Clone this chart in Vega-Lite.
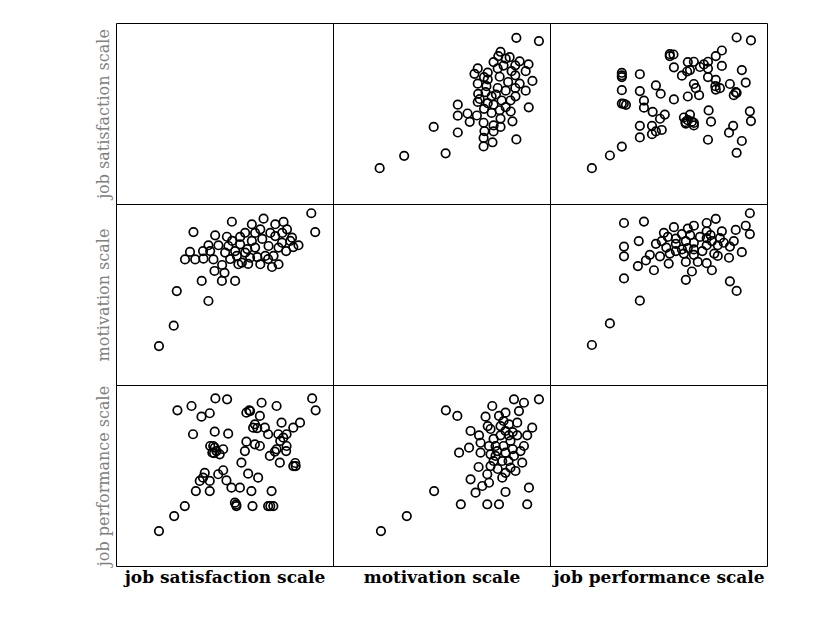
{
  "$schema": "https://vega.github.io/schema/vega-lite/v6.json",
  "padding": {"left": 94, "top": 22, "right": 5, "bottom": 5},
  "background": "white",
  "datasets": {
    "js_mot": [
      {"job_satisfaction": 90.0, "motivation": 94.9}, {"job_satisfaction": 91.8, "motivation": 84.5},
      {"job_satisfaction": 53.4, "motivation": 90.2}, {"job_satisfaction": 62.6, "motivation": 88.8},
      {"job_satisfaction": 68.0, "motivation": 91.9}, {"job_satisfaction": 35.7, "motivation": 84.5},
      {"job_satisfaction": 45.7, "motivation": 82.7}, {"job_satisfaction": 51.1, "motivation": 81.9},
      {"job_satisfaction": 59.5, "motivation": 84.1}, {"job_satisfaction": 66.5, "motivation": 86.0},
      {"job_satisfaction": 73.4, "motivation": 88.8}, {"job_satisfaction": 77.2, "motivation": 90.1},
      {"job_satisfaction": 78.8, "motivation": 86.0}, {"job_satisfaction": 73.4, "motivation": 82.3},
      {"job_satisfaction": 81.1, "motivation": 81.4}, {"job_satisfaction": 84.1, "motivation": 77.2},
      {"job_satisfaction": 76.5, "motivation": 78.6}, {"job_satisfaction": 42.6, "motivation": 77.2},
      {"job_satisfaction": 47.2, "motivation": 77.2}, {"job_satisfaction": 51.8, "motivation": 76.8},
      {"job_satisfaction": 57.2, "motivation": 77.7}, {"job_satisfaction": 62.6, "motivation": 79.6},
      {"job_satisfaction": 64.1, "motivation": 75.9}, {"job_satisfaction": 70.3, "motivation": 76.8},
      {"job_satisfaction": 74.9, "motivation": 75.9}, {"job_satisfaction": 34.1, "motivation": 73.5},
      {"job_satisfaction": 31.8, "motivation": 69.4}, {"job_satisfaction": 36.5, "motivation": 69.4},
      {"job_satisfaction": 40.3, "motivation": 69.8}, {"job_satisfaction": 44.9, "motivation": 69.4},
      {"job_satisfaction": 50.3, "motivation": 73.1}, {"job_satisfaction": 55.7, "motivation": 71.3},
      {"job_satisfaction": 59.5, "motivation": 73.1}, {"job_satisfaction": 58.0, "motivation": 67.6},
      {"job_satisfaction": 61.8, "motivation": 70.3}, {"job_satisfaction": 66.5, "motivation": 66.7},
      {"job_satisfaction": 71.9, "motivation": 65.2}, {"job_satisfaction": 74.9, "motivation": 66.7},
      {"job_satisfaction": 68.8, "motivation": 71.3}, {"job_satisfaction": 72.6, "motivation": 71.3},
      {"job_satisfaction": 56.4, "motivation": 66.7}, {"job_satisfaction": 45.4, "motivation": 63.0},
      {"job_satisfaction": 50.0, "motivation": 62.0}, {"job_satisfaction": 39.5, "motivation": 57.5},
      {"job_satisfaction": 48.8, "motivation": 57.5}, {"job_satisfaction": 54.9, "motivation": 57.5},
      {"job_satisfaction": 28.0, "motivation": 51.9}, {"job_satisfaction": 42.6, "motivation": 46.4},
      {"job_satisfaction": 26.6, "motivation": 32.8}, {"job_satisfaction": 19.8, "motivation": 21.5},
      {"job_satisfaction": 53.5, "motivation": 79.6}, {"job_satisfaction": 67.4, "motivation": 80.7},
      {"job_satisfaction": 71.1, "motivation": 84.0}, {"job_satisfaction": 60.5, "motivation": 75.1},
      {"job_satisfaction": 78.4, "motivation": 74.0}, {"job_satisfaction": 40.1, "motivation": 74.0},
      {"job_satisfaction": 65.1, "motivation": 70.7}, {"job_satisfaction": 81.7, "motivation": 76.2},
      {"job_satisfaction": 54.9, "motivation": 74.0}, {"job_satisfaction": 57.2, "motivation": 81.8},
      {"job_satisfaction": 64.1, "motivation": 84.0}, {"job_satisfaction": 52.6, "motivation": 69.6},
      {"job_satisfaction": 60.9, "motivation": 66.9}, {"job_satisfaction": 76.6, "motivation": 84.0},
      {"job_satisfaction": 80.3, "motivation": 79.6}, {"job_satisfaction": 43.4, "motivation": 74.0},
      {"job_satisfaction": 70.1, "motivation": 69.6}, {"job_satisfaction": 48.9, "motivation": 66.3}
    ],
    "js_perf": [
      {"job_satisfaction": 90.4, "job_performance": 92.6}, {"job_satisfaction": 92.0, "job_performance": 86.0},
      {"job_satisfaction": 45.8, "job_performance": 92.6}, {"job_satisfaction": 51.2, "job_performance": 92.1},
      {"job_satisfaction": 28.3, "job_performance": 86.0}, {"job_satisfaction": 34.8, "job_performance": 88.4},
      {"job_satisfaction": 39.4, "job_performance": 82.5}, {"job_satisfaction": 43.2, "job_performance": 84.4},
      {"job_satisfaction": 67.1, "job_performance": 90.2}, {"job_satisfaction": 74.0, "job_performance": 88.4},
      {"job_satisfaction": 60.1, "job_performance": 84.7}, {"job_satisfaction": 61.4, "job_performance": 86.0},
      {"job_satisfaction": 66.3, "job_performance": 82.9}, {"job_satisfaction": 76.3, "job_performance": 79.2},
      {"job_satisfaction": 84.8, "job_performance": 79.2}, {"job_satisfaction": 81.7, "job_performance": 76.4},
      {"job_satisfaction": 64.0, "job_performance": 78.3}, {"job_satisfaction": 68.6, "job_performance": 76.4},
      {"job_satisfaction": 63.2, "job_performance": 76.4}, {"job_satisfaction": 35.5, "job_performance": 72.8},
      {"job_satisfaction": 45.5, "job_performance": 74.2}, {"job_satisfaction": 51.7, "job_performance": 73.1},
      {"job_satisfaction": 70.1, "job_performance": 72.8}, {"job_satisfaction": 74.8, "job_performance": 72.8},
      {"job_satisfaction": 78.6, "job_performance": 72.8}, {"job_satisfaction": 77.1, "job_performance": 70.9},
      {"job_satisfaction": 60.1, "job_performance": 68.7}, {"job_satisfaction": 66.3, "job_performance": 66.3},
      {"job_satisfaction": 64.0, "job_performance": 67.2}, {"job_satisfaction": 44.8, "job_performance": 66.3},
      {"job_satisfaction": 46.3, "job_performance": 63.5}, {"job_satisfaction": 44.4, "job_performance": 62.6},
      {"job_satisfaction": 47.8, "job_performance": 61.7}, {"job_satisfaction": 49.4, "job_performance": 64.5},
      {"job_satisfaction": 59.4, "job_performance": 63.5}, {"job_satisfaction": 57.8, "job_performance": 57.1},
      {"job_satisfaction": 70.9, "job_performance": 60.8}, {"job_satisfaction": 74.0, "job_performance": 64.5},
      {"job_satisfaction": 73.2, "job_performance": 63.2}, {"job_satisfaction": 78.6, "job_performance": 66.3},
      {"job_satisfaction": 75.5, "job_performance": 57.1}, {"job_satisfaction": 81.7, "job_performance": 55.2},
      {"job_satisfaction": 82.8, "job_performance": 55.2}, {"job_satisfaction": 40.9, "job_performance": 51.5},
      {"job_satisfaction": 49.4, "job_performance": 52.9}, {"job_satisfaction": 60.9, "job_performance": 51.0},
      {"job_satisfaction": 65.5, "job_performance": 48.8}, {"job_satisfaction": 38.6, "job_performance": 47.0},
      {"job_satisfaction": 43.2, "job_performance": 47.0}, {"job_satisfaction": 50.9, "job_performance": 47.3},
      {"job_satisfaction": 53.2, "job_performance": 43.3}, {"job_satisfaction": 57.1, "job_performance": 43.3},
      {"job_satisfaction": 62.4, "job_performance": 41.4}, {"job_satisfaction": 71.7, "job_performance": 41.4},
      {"job_satisfaction": 36.8, "job_performance": 41.4}, {"job_satisfaction": 43.2, "job_performance": 41.4},
      {"job_satisfaction": 54.8, "job_performance": 35.0}, {"job_satisfaction": 55.5, "job_performance": 33.1},
      {"job_satisfaction": 62.9, "job_performance": 33.1}, {"job_satisfaction": 70.1, "job_performance": 33.1},
      {"job_satisfaction": 72.5, "job_performance": 33.1}, {"job_satisfaction": 31.7, "job_performance": 33.1},
      {"job_satisfaction": 26.8, "job_performance": 27.6}, {"job_satisfaction": 19.8, "job_performance": 19.3},
      {"job_satisfaction": 45.5, "job_performance": 65.4}, {"job_satisfaction": 40.1, "job_performance": 48.8},
      {"job_satisfaction": 47.1, "job_performance": 50.7}, {"job_satisfaction": 45.2, "job_performance": 62.4},
      {"job_satisfaction": 43.4, "job_performance": 66.3}, {"job_satisfaction": 75.7, "job_performance": 69.1},
      {"job_satisfaction": 65.1, "job_performance": 76.2}, {"job_satisfaction": 78.4, "job_performance": 63.5},
      {"job_satisfaction": 82.6, "job_performance": 56.9}, {"job_satisfaction": 55.4, "job_performance": 34.0},
      {"job_satisfaction": 71.1, "job_performance": 33.1}, {"job_satisfaction": 61.8, "job_performance": 85.6}
    ],
    "mot_perf": [
      {"motivation": 83.4, "job_performance": 92.1}, {"motivation": 88.0, "job_performance": 90.2},
      {"motivation": 94.9, "job_performance": 92.1}, {"motivation": 73.4, "job_performance": 88.4},
      {"motivation": 85.7, "job_performance": 85.6}, {"motivation": 76.5, "job_performance": 82.9},
      {"motivation": 79.5, "job_performance": 84.7}, {"motivation": 70.3, "job_performance": 82.5},
      {"motivation": 77.2, "job_performance": 77.3}, {"motivation": 81.1, "job_performance": 78.3},
      {"motivation": 84.9, "job_performance": 79.2}, {"motivation": 91.8, "job_performance": 76.4},
      {"motivation": 63.4, "job_performance": 74.6}, {"motivation": 67.3, "job_performance": 72.2},
      {"motivation": 77.2, "job_performance": 72.2}, {"motivation": 81.1, "job_performance": 72.2},
      {"motivation": 84.9, "job_performance": 72.2}, {"motivation": 89.5, "job_performance": 72.2},
      {"motivation": 68.0, "job_performance": 68.1}, {"motivation": 71.9, "job_performance": 66.3},
      {"motivation": 81.8, "job_performance": 69.1}, {"motivation": 88.0, "job_performance": 66.3},
      {"motivation": 58.1, "job_performance": 62.6}, {"motivation": 62.7, "job_performance": 65.4},
      {"motivation": 68.0, "job_performance": 62.6}, {"motivation": 72.6, "job_performance": 61.7},
      {"motivation": 75.7, "job_performance": 63.5}, {"motivation": 79.5, "job_performance": 62.6},
      {"motivation": 83.4, "job_performance": 60.8}, {"motivation": 78.0, "job_performance": 58.0},
      {"motivation": 87.2, "job_performance": 57.1}, {"motivation": 81.8, "job_performance": 54.3},
      {"motivation": 79.5, "job_performance": 51.5}, {"motivation": 78.0, "job_performance": 48.8},
      {"motivation": 63.4, "job_performance": 47.9}, {"motivation": 71.1, "job_performance": 50.7},
      {"motivation": 68.8, "job_performance": 44.2}, {"motivation": 65.7, "job_performance": 40.5},
      {"motivation": 71.9, "job_performance": 46.0}, {"motivation": 79.5, "job_performance": 40.9},
      {"motivation": 90.3, "job_performance": 43.3}, {"motivation": 58.9, "job_performance": 34.1},
      {"motivation": 71.1, "job_performance": 34.1}, {"motivation": 76.5, "job_performance": 34.1},
      {"motivation": 89.5, "job_performance": 34.1}, {"motivation": 52.0, "job_performance": 86.0},
      {"motivation": 46.6, "job_performance": 41.4}, {"motivation": 34.0, "job_performance": 27.6},
      {"motivation": 22.1, "job_performance": 19.3}, {"motivation": 74.9, "job_performance": 66.3},
      {"motivation": 74.0, "job_performance": 70.2}, {"motivation": 72.6, "job_performance": 75.7},
      {"motivation": 82.8, "job_performance": 64.6}, {"motivation": 79.5, "job_performance": 74.6},
      {"motivation": 57.3, "job_performance": 82.9}, {"motivation": 74.0, "job_performance": 58.0},
      {"motivation": 67.1, "job_performance": 54.7}, {"motivation": 82.8, "job_performance": 74.0},
      {"motivation": 78.6, "job_performance": 66.3}, {"motivation": 74.9, "job_performance": 60.8},
      {"motivation": 80.9, "job_performance": 58.0}, {"motivation": 75.9, "job_performance": 53.6},
      {"motivation": 84.1, "job_performance": 52.5}, {"motivation": 72.6, "job_performance": 55.2},
      {"motivation": 86.4, "job_performance": 63.5}, {"motivation": 78.6, "job_performance": 80.1},
      {"motivation": 71.3, "job_performance": 77.3}
    ]
  },
  "columns": 3,
  "spacing": 0,
  "bounds": "flush",
  "concat": [
    {
      "width": 217, "height": 181,
      "data": {"values": []},
      "mark": {"type": "point", "shape": "circle", "filled": false, "color": "black"},
      "encoding": {
        "x": {"field": "job_satisfaction", "type": "quantitative", "scale": {"domain": [0, 100], "nice": false, "zero": false}, "axis": null},
        "y": {"field": "job_satisfaction", "type": "quantitative", "scale": {"domain": [0, 100], "nice": false, "zero": false},
              "axis": {"title": "job satisfaction scale", "labels": false, "ticks": false, "domain": false, "grid": false}}
      }
    },
    {
      "width": 217, "height": 181,
      "data": {"name": "js_mot"},
      "mark": {"type": "point", "shape": "circle", "filled": false, "color": "black", "size": 72, "strokeWidth": 1.7, "opacity": 1},
      "encoding": {
        "x": {"field": "motivation", "type": "quantitative", "scale": {"domain": [0, 100], "nice": false, "zero": false}, "axis": null},
        "y": {"field": "job_satisfaction", "type": "quantitative", "scale": {"domain": [0, 100], "nice": false, "zero": false}, "axis": null}
      }
    },
    {
      "width": 217, "height": 181,
      "data": {"name": "js_perf"},
      "mark": {"type": "point", "shape": "circle", "filled": false, "color": "black", "size": 72, "strokeWidth": 1.7, "opacity": 1},
      "encoding": {
        "x": {"field": "job_performance", "type": "quantitative", "scale": {"domain": [0, 100], "nice": false, "zero": false}, "axis": null},
        "y": {"field": "job_satisfaction", "type": "quantitative", "scale": {"domain": [0, 100], "nice": false, "zero": false}, "axis": null}
      }
    },
    {
      "width": 217, "height": 181,
      "data": {"name": "js_mot"},
      "mark": {"type": "point", "shape": "circle", "filled": false, "color": "black", "size": 72, "strokeWidth": 1.7, "opacity": 1},
      "encoding": {
        "x": {"field": "job_satisfaction", "type": "quantitative", "scale": {"domain": [0, 100], "nice": false, "zero": false}, "axis": null},
        "y": {"field": "motivation", "type": "quantitative", "scale": {"domain": [0, 100], "nice": false, "zero": false},
              "axis": {"title": "motivation scale", "labels": false, "ticks": false, "domain": false, "grid": false}}
      }
    },
    {
      "width": 217, "height": 181,
      "data": {"values": []},
      "mark": {"type": "point", "shape": "circle", "filled": false, "color": "black"},
      "encoding": {
        "x": {"field": "motivation", "type": "quantitative", "scale": {"domain": [0, 100], "nice": false, "zero": false}, "axis": null},
        "y": {"field": "motivation", "type": "quantitative", "scale": {"domain": [0, 100], "nice": false, "zero": false}, "axis": null}
      }
    },
    {
      "width": 217, "height": 181,
      "data": {"name": "mot_perf"},
      "mark": {"type": "point", "shape": "circle", "filled": false, "color": "black", "size": 72, "strokeWidth": 1.7, "opacity": 1},
      "encoding": {
        "x": {"field": "job_performance", "type": "quantitative", "scale": {"domain": [0, 100], "nice": false, "zero": false}, "axis": null},
        "y": {"field": "motivation", "type": "quantitative", "scale": {"domain": [0, 100], "nice": false, "zero": false}, "axis": null}
      }
    },
    {
      "width": 217, "height": 181,
      "data": {"name": "js_perf"},
      "mark": {"type": "point", "shape": "circle", "filled": false, "color": "black", "size": 72, "strokeWidth": 1.7, "opacity": 1},
      "encoding": {
        "x": {"field": "job_satisfaction", "type": "quantitative", "scale": {"domain": [0, 100], "nice": false, "zero": false},
              "axis": {"title": "job satisfaction scale", "labels": false, "ticks": false, "domain": false, "grid": false}},
        "y": {"field": "job_performance", "type": "quantitative", "scale": {"domain": [0, 100], "nice": false, "zero": false},
              "axis": {"title": "job performance scale", "labels": false, "ticks": false, "domain": false, "grid": false}}
      }
    },
    {
      "width": 217, "height": 181,
      "data": {"name": "mot_perf"},
      "mark": {"type": "point", "shape": "circle", "filled": false, "color": "black", "size": 72, "strokeWidth": 1.7, "opacity": 1},
      "encoding": {
        "x": {"field": "motivation", "type": "quantitative", "scale": {"domain": [0, 100], "nice": false, "zero": false},
              "axis": {"title": "motivation scale", "labels": false, "ticks": false, "domain": false, "grid": false}},
        "y": {"field": "job_performance", "type": "quantitative", "scale": {"domain": [0, 100], "nice": false, "zero": false}, "axis": null}
      }
    },
    {
      "width": 217, "height": 181,
      "data": {"values": []},
      "mark": {"type": "point", "shape": "circle", "filled": false, "color": "black"},
      "encoding": {
        "x": {"field": "job_performance", "type": "quantitative", "scale": {"domain": [0, 100], "nice": false, "zero": false},
              "axis": {"title": "job performance scale", "labels": false, "ticks": false, "domain": false, "grid": false}},
        "y": {"field": "job_performance", "type": "quantitative", "scale": {"domain": [0, 100], "nice": false, "zero": false}, "axis": null}
      }
    }
  ],
  "config": {
    "view": {"stroke": "black", "strokeWidth": 1},
    "axis": {"grid": false, "titleFont": "DejaVu Serif"},
    "axisX": {"titleFontSize": 17, "titleFontWeight": "bold", "titleColor": "black", "titlePadding": 3},
    "axisY": {"titleFontSize": 16, "titleFontWeight": "normal", "titleColor": "#808080", "titlePadding": 5}
  }
}
